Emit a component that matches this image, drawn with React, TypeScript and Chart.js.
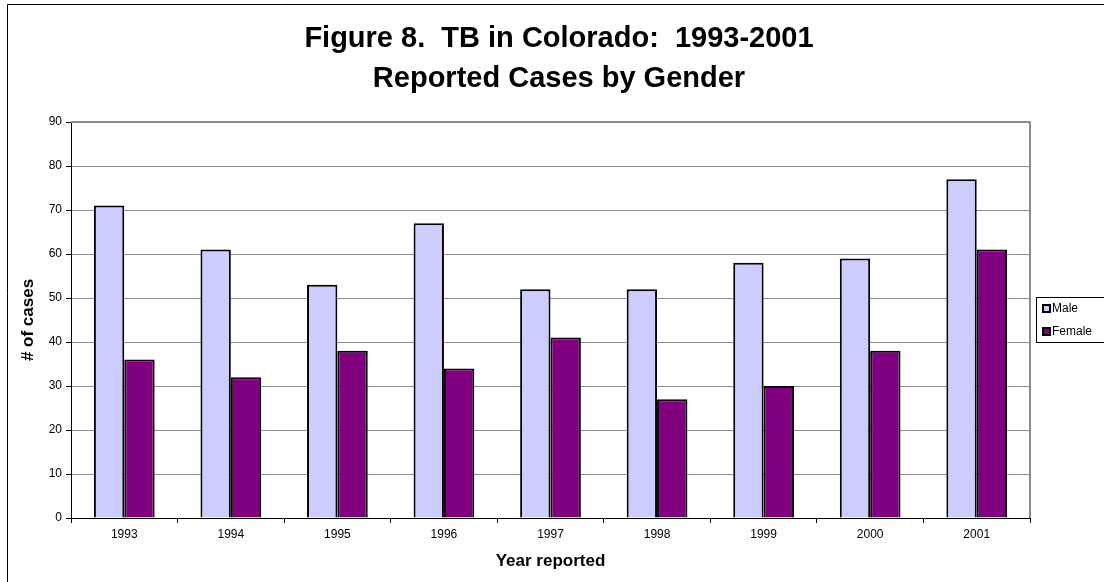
import React, { useEffect, useRef } from "react";
import { Chart, registerables } from "chart.js";

Chart.register(...registerables);

const categories = ["1993", "1994", "1995", "1996", "1997", "1998", "1999", "2000", "2001"];
const maleCases = [71, 61, 53, 67, 52, 52, 58, 59, 77];
const femaleCases = [36, 32, 38, 34, 41, 27, 30, 38, 61];
const seriesNames = ["Male", "Female"];
const titleLines = ["Figure 8.  TB in Colorado:  1993-2001", "Reported Cases by Gender"];
const xTitle = "Year reported";
const yTitle = "# of cases";

const FONT = "'Liberation Sans', Arial, sans-serif";

const framePlugin = {
  id: "framePlugin",
  afterDraw(chart: any) {
    const ctx = chart.ctx;
    const { left, right, top, bottom } = chart.chartArea;
    ctx.save();
    ctx.strokeStyle = "#8c8c8c";
    ctx.lineWidth = 2;
    ctx.beginPath();
    ctx.moveTo(left, top);
    ctx.lineTo(right, top);
    ctx.lineTo(right, bottom);
    ctx.stroke();
    ctx.strokeStyle = "#000";
    ctx.lineWidth = 1;
    ctx.beginPath();
    ctx.moveTo(7.5, chart.height);
    ctx.lineTo(7.5, 4.5);
    ctx.lineTo(chart.width, 4.5);
    ctx.stroke();
    ctx.strokeStyle = "#000";
    ctx.lineWidth = 1;
    ctx.strokeRect(1036.5, 297.5, 90, 45);
    ctx.font = `12px ${FONT}`;
    ctx.textBaseline = "middle";
    ctx.textAlign = "left";
    chart.data.datasets.forEach((ds: any, i: number) => {
      const y = 308 + i * 23;
      ctx.fillStyle = "#000";
      ctx.fillRect(1042, y - 4, 9, 9);
      ctx.fillStyle = ds.backgroundColor;
      ctx.fillRect(1044, y - 2, 5, 5);
      ctx.fillStyle = "#000";
      ctx.fillText(ds.label, 1052, y + 1);
    });
    ctx.restore();
  },
};

export default function App() {
  const ref = useRef<HTMLCanvasElement | null>(null);

  useEffect(() => {
    if (!ref.current) return;
    const chart = new Chart(ref.current, {
      type: "bar",
      data: {
        labels: categories,
        datasets: [
          {
            label: seriesNames[0],
            data: maleCases,
            backgroundColor: "#CCCCFF",
            borderColor: "#000",
            borderWidth: 2,
            categoryPercentage: 0.57,
            barPercentage: 1,
          },
          {
            label: seriesNames[1],
            data: femaleCases,
            backgroundColor: "#800080",
            borderColor: "#000",
            borderWidth: 2,
            categoryPercentage: 0.57,
            barPercentage: 1,
          },
        ],
      },
      options: {
        responsive: false,
        animation: false,
        layout: { padding: { left: 14, right: 0, top: 0, bottom: 0 } },
        plugins: {
          legend: { display: false },
          tooltip: { enabled: false },
          title: {
            display: true,
            text: titleLines,
            color: "#000",
            font: { family: FONT, size: 29, weight: "bold", lineHeight: 40 / 29 },
            padding: { top: 19, bottom: 23 },
          },
        },
        scales: {
          x: {
            grid: {
              display: true,
              drawOnChartArea: false,
              drawTicks: true,
              tickLength: 5,
              color: "#000",
              offset: true,
            },
            border: { color: "#000", width: 1 },
            ticks: {
              color: "#000",
              font: { family: FONT, size: 12 },
              padding: 4,
              maxRotation: 0,
              autoSkip: false,
            },
            title: {
              display: true,
              text: xTitle,
              color: "#000",
              font: { family: FONT, size: 17, weight: "bold" },
              padding: { top: 0, bottom: 10 },
            },
            afterFit: (s: any) => {
              s.height = 64;
            },
          },
          y: {
            min: 0,
            max: 90,
            ticks: {
              stepSize: 10,
              color: "#000",
              font: { family: FONT, size: 12 },
              padding: 4,
            },
            grid: { color: "#8c8c8c", tickColor: "#000", tickLength: 5 },
            border: { color: "#000", width: 1 },
            title: {
              display: true,
              text: yTitle,
              color: "#000",
              font: { family: FONT, size: 17, weight: "bold" },
              padding: { top: 4, bottom: 0 },
            },
            afterFit: (s: any) => {
              s.width = 57;
            },
          },
          y2: {
            type: "linear",
            position: "right",
            display: true,
            grid: { display: false },
            ticks: { display: false },
            border: { display: false },
            afterFit: (s: any) => {
              s.width = 74;
            },
          },
        },
      },
      plugins: [framePlugin],
    } as any);
    return () => chart.destroy();
  }, []);

  return (
    <div style={{ position: "fixed", left: 0, top: 0, width: 1104, height: 582, background: "#fff" }}>
      <canvas ref={ref} width={1104} height={582} style={{ display: "block" }} />
    </div>
  );
}
